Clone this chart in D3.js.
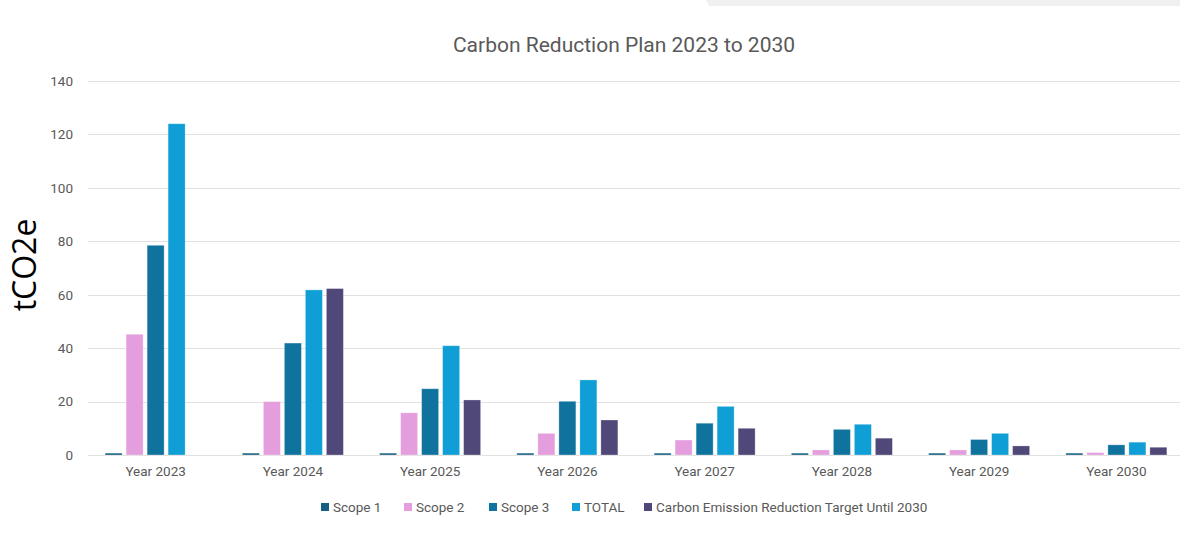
<!DOCTYPE html>
<html>
<head>
<meta charset="utf-8">
<script src="https://cdn.jsdelivr.net/npm/d3@7"></script>
<style>
  html, body { margin: 0; padding: 0; background: #fff; }
  svg { display: block; }
</style>
</head>
<body>
<div id="chart"></div>
<script>
// ---- Data ----
const categories = ["Year 2023", "Year 2024", "Year 2025", "Year 2026", "Year 2027", "Year 2028", "Year 2029", "Year 2030"];
const seriesNames = ["Scope 1", "Scope 2", "Scope 3", "TOTAL", "Carbon Emission Reduction Target Until 2030"];
const scope1 = [0.7, 0.7, 0.7, 0.7, 0.7, 0.7, 0.7, 0.7];
const scope2 = [45.2, 20.0, 15.8, 8.1, 5.6, 1.9, 1.9, 0.9];
const scope3 = [78.5, 41.9, 24.8, 20.1, 11.9, 9.6, 5.8, 3.8];
const total = [124.0, 61.8, 40.9, 28.1, 18.2, 11.5, 8.1, 4.8];
const target = [null, 62.3, 20.6, 13.1, 10.0, 6.3, 3.4, 2.9];
const yTicks = [0, 20, 40, 60, 80, 100, 120, 140];
const colors = ["#156082", "#E49EDD", "#10739E", "#0F9ED5", "#4F4878"];

const title = "Carbon Reduction Plan 2023 to 2030";
const yTitle = "tCO2e";

// ---- Layout ----
const W = 1180, H = 542;
const FONT = "Roboto, 'Open Sans', sans-serif";
const svg = d3.select("#chart").append("svg").attr("width", W).attr("height", H);

// cropped screenshot artifact at top-right
svg.append("path")
  .attr("d", "M706,0 L1180,0 L1180,6 L709,6 Z")
  .attr("fill", "#f0f0f0");

const allSeries = [scope1, scope2, scope3, total, target];

const x0 = d3.scaleBand().domain(categories).range([87, 1185]).padding(0);
const x1 = d3.scaleBand().domain(seriesNames)
  .range([x0.bandwidth() / 2 - 50.5, x0.bandwidth() / 2 + 50.5])
  .paddingInner(4 / 21).paddingOuter(0);
const y = d3.scaleLinear().domain([0, 140]).range([455, 81]);

// gridlines
svg.append("g").selectAll("line").data(yTicks).join("line")
  .attr("x1", 88).attr("x2", W)
  .attr("y1", d => Math.round(y(d)) + 0.5).attr("y2", d => Math.round(y(d)) + 0.5)
  .attr("stroke", "#e1e1e1").attr("stroke-width", 1);

// y axis labels
const yAxis = d3.axisLeft(y).tickValues(yTicks).tickSize(0).tickPadding(0);
const gy = svg.append("g").attr("transform", "translate(73,0)").call(yAxis);
gy.select(".domain").remove();
gy.selectAll("text").attr("font-family", FONT)
  .attr("font-size", 13.5).attr("fill", "#595959");

// x axis labels
const xAxis = d3.axisBottom(x0).tickSize(0).tickPadding(0);
const gx = svg.append("g").attr("transform", "translate(0,466)").call(xAxis);
gx.select(".domain").remove();
gx.selectAll("text").attr("font-family", FONT)
  .attr("font-size", 13.5).attr("fill", "#595959");

// bars
const groups = svg.append("g").selectAll("g").data(categories).join("g")
  .attr("transform", d => `translate(${x0(d)},0)`);

groups.selectAll("rect")
  .data((c, i) => seriesNames.map((s, k) => ({ s, k, v: allSeries[k][i] })).filter(d => d.v != null))
  .join("rect")
  .attr("x", d => x1(d.s))
  .attr("width", x1.bandwidth())
  .attr("y", d => y(d.v))
  .attr("height", d => y(0) - y(d.v))
  .attr("fill", d => colors[d.k])
  .attr("stroke", "rgba(255,255,255,0.35)")
  .attr("stroke-width", 0.8);

// title
svg.append("text").attr("x", 624).attr("y", 52).attr("text-anchor", "middle")
  .attr("font-family", FONT).attr("font-size", 21)
  .attr("fill", "#595959").text(title);

// y title
svg.append("text").attr("transform", "translate(36,265) rotate(-90)")
  .attr("text-anchor", "middle")
  .attr("font-family", "'Open Sans', 'Noto Sans', sans-serif").attr("font-size", 32)
  .attr("font-weight", 500)
  .attr("fill", "#000").text(yTitle);

// legend
const legendX = [321, 404, 489, 572, 644];
const lg = svg.append("g").selectAll("g").data(seriesNames).join("g")
  .attr("transform", (d, i) => `translate(${legendX[i]},507)`);
lg.append("rect").attr("x", 0).attr("y", -4).attr("width", 8).attr("height", 8)
  .attr("fill", (d, i) => colors[i]);
lg.append("text").attr("x", 12).attr("y", 4.5)
  .attr("font-family", FONT).attr("font-size", 13.5)
  .attr("fill", "#595959").text(d => d);
</script>
</body>
</html>
